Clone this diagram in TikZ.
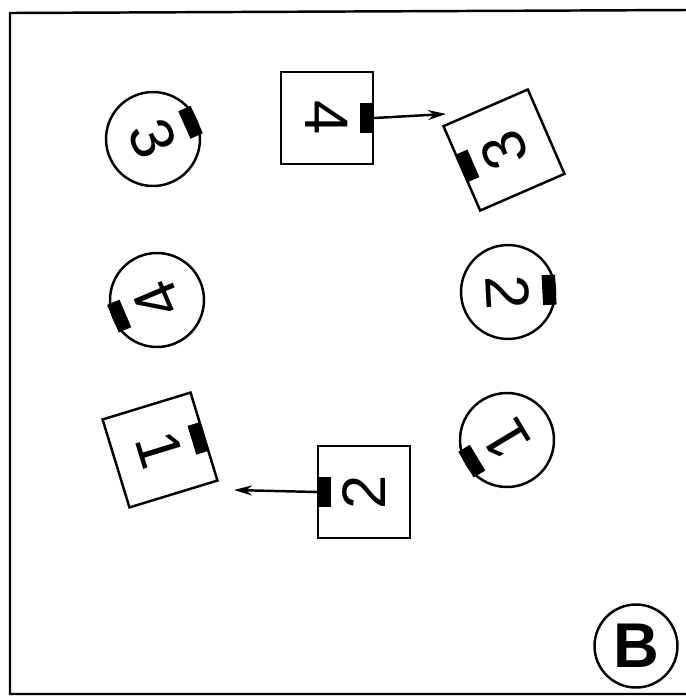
\documentclass[tikz,border=0pt]{standalone}
\usepackage{tikz}
\usepackage{fontspec}
\newfontfamily\piecefont{Liberation Sans}
\usetikzlibrary{positioning,arrows.meta}

\tikzset{
    piece/.style={draw, line width=1.4pt, inner sep=0pt, font=\fontsize{35}{35}\selectfont\piecefont},
    sqpiece/.style={piece, rectangle, minimum size=1.84cm},
    cpiece/.style={piece, circle, minimum size=1.88cm},
    tab/.style={fill=black, rectangle, inner sep=0pt, minimum width=0.6cm, minimum height=0.27cm},
    move/.style={line width=1.4pt, -{Stealth[length=0.36cm, width=0.2cm]}}
}

\begin{document}
\begin{tikzpicture}[x=0.02cm, y=-0.02cm]
\useasboundingbox (0,0) rectangle (686,698);
\draw[line width=1.4pt] (686,10) -- (10,13) -- (10,694) -- (686,694);

% square pieces, digit top points to the tab
\node[sqpiece, rotate=-90] (s4) at (327,118) {4};
\node[sqpiece, rotate=113.5] (s3) at (504,150) {3};
\node[sqpiece, rotate=90] (s2) at (364,492) {2};
\node[sqpiece, rotate=-73] (s1) at (160,450) {1};

% round pieces
\node[cpiece, rotate=-66] (c3) at (153,139) {3};
\node[cpiece, rotate=113] (c4) at (157,300) {4};
\node[cpiece, rotate=-87] (c2) at (508,292) {2};
\node[cpiece, rotate=121] (c1) at (507,440) {1};

% tabs
\node[tab, rotate=-90, anchor=north] (t4) at (s4.north) {};
\node[tab, rotate=113.5, anchor=north] (t3) at (s3.north) {};
\node[tab, rotate=90, anchor=north] (t2) at (s2.north) {};
\node[tab, rotate=-73, anchor=north] (t1) at (s1.north) {};
\node[tab, rotate=-66, anchor=north] (tc3) at (c3.north) {};
\node[tab, rotate=113, anchor=north] (tc4) at (c4.north) {};
\node[tab, rotate=-87, anchor=north] (tc2) at (c2.north) {};
\node[tab, rotate=121, anchor=north] (tc1) at (c1.north) {};

% moves
\coordinate (e4) at (446,114);
\coordinate (e2) at (234,490);
\draw[move] (t4.north) -- (e4);
\draw[move] (t2.north) -- (e2);

\node[piece, circle, minimum size=1.66cm, font=\fontsize{36}{36}\selectfont\piecefont\bfseries] (lb) at (636,646) {B};
\end{tikzpicture}
\end{document}
